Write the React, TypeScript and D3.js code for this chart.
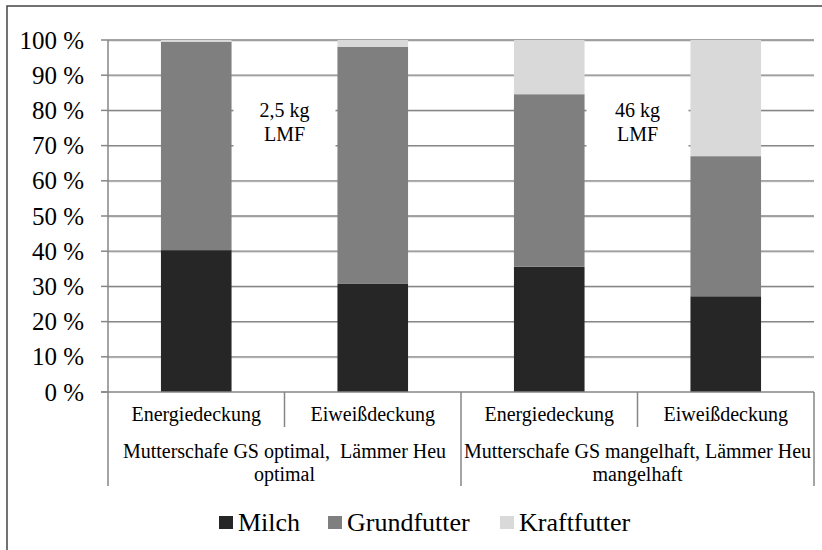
import React from "react";
import * as d3 from "d3";

const categories = ["Energiedeckung", "Eiweißdeckung", "Energiedeckung ", "Eiweißdeckung "];
const categoryLabels = ["Energiedeckung", "Eiweißdeckung", "Energiedeckung", "Eiweißdeckung"];
const groups = [
  ["Mutterschafe GS optimal,  Lämmer Heu", "optimal"],
  ["Mutterschafe GS mangelhaft, Lämmer Heu", "mangelhaft"],
];
const seriesNames = ["Milch", "Grundfutter", "Kraftfutter"];
const milch = [40.3, 30.7, 35.6, 27.2];
const grundfutter = [59.2, 67.4, 49.0, 39.8];
const kraftfutter = [0.5, 1.9, 15.4, 33.0];
const yTicks = [0, 10, 20, 30, 40, 50, 60, 70, 80, 90, 100];
const annotations = [["2,5 kg", "LMF"], ["46 kg", "LMF"]];

const colors = ["#262626", "#7f7f7f", "#d9d9d9"];
const font = "'Liberation Serif', 'Times New Roman', serif";

export default function App() {
  const W = 822, H = 550;
  const left = 108, right = 814, top = 40, bottom = 392;
  const y = d3.scaleLinear().domain([0, 100]).range([bottom, top]);
  const x = d3.scaleBand<string>().domain(categories).range([left, right]).paddingInner(0.6).paddingOuter(0.3);
  const step = x.step();
  const series = [milch, grundfutter, kraftfutter];
  const rows = categories.map((c, i) => {
    const o: any = { cat: c };
    seriesNames.forEach((s, k) => (o[s] = series[k][i]));
    return o;
  });
  const stacked = d3.stack().keys(seriesNames)(rows);
  const axisColor = "#868686";
  const catBottom = 486;
  const groupX = [left, left + 2 * step, right];

  return (
    <svg width={W} height={H} style={{ position: "absolute", left: 0, top: 0, background: "#fff" }} fontFamily={font}>
      <rect x={7} y={6} width={830} height={560} fill="#fff" stroke="#444" strokeWidth={1.5} />
      {yTicks.filter((t) => t > 0).map((t) => (
        <g key={t}>
          <line x1={left} x2={right} y1={y(t) + 1} y2={y(t) + 1} stroke="#cfcfcf" strokeWidth={1} />
          <line x1={left} x2={right} y1={y(t)} y2={y(t)} stroke={axisColor} strokeWidth={1.3} />
        </g>
      ))}
      {annotations.map((a, i) => {
        const cx = groupX[i] + step;
        return (
          <g key={i}>
            <rect x={cx - 51} y={88} width={102} height={66} fill="#fff" />
            <text x={cx} y={110} textAnchor="middle" dominantBaseline="central" fontSize={20}>{a[0]}</text>
            <text x={cx} y={134} textAnchor="middle" dominantBaseline="central" fontSize={20}>{a[1]}</text>
          </g>
        );
      })}
      {stacked.map((s, k) => (
        <g key={s.key} fill={colors[k]}>
          {s.map((d, i) => (
            <rect key={i} x={x(categories[i])!} width={x.bandwidth()} y={y(d[1])} height={y(d[0]) - y(d[1])} />
          ))}
        </g>
      ))}
      <line x1={left} x2={left} y1={top} y2={catBottom} stroke={axisColor} strokeWidth={1.5} />
      {yTicks.map((t) => (
        <g key={t}>
          <line x1={left - 7} x2={left} y1={y(t)} y2={y(t)} stroke={axisColor} strokeWidth={1.5} />
          <text x={84} y={y(t)} textAnchor="end" dominantBaseline="central" fontSize={25}>{`${t} %`}</text>
        </g>
      ))}
      <line x1={left - 7} x2={right} y1={bottom} y2={bottom} stroke={axisColor} strokeWidth={1.5} />
      {categories.map((c, i) => {
        const x0 = left + i * step;
        return (
          <g key={i}>
            <line x1={x0 + step} x2={x0 + step} y1={bottom} y2={i % 2 === 0 ? 427 : catBottom} stroke={axisColor} strokeWidth={1.5} />
            <text x={x0 + step / 2} y={414} textAnchor="middle" dominantBaseline="central" fontSize={20}>{categoryLabels[i]}</text>
          </g>
        );
      })}
      {groups.map((g, i) => {
        const cx = (groupX[i] + groupX[i + 1]) / 2;
        return (
          <g key={i}>
            {g.map((line, j) => (
              <text key={j} x={cx} y={451 + j * 22.5} textAnchor="middle" dominantBaseline="central" fontSize={20} style={{ whiteSpace: "pre" }}>{line}</text>
            ))}
          </g>
        );
      })}
      {seriesNames.map((s, k) => {
        const lx = [219, 328, 500][k];
        return (
          <g key={s}>
            <rect x={lx} y={516} width={14} height={13} fill={colors[k]} />
            <text x={lx + 19} y={522.5} dominantBaseline="central" fontSize={26}>{s}</text>
          </g>
        );
      })}
    </svg>
  );
}
